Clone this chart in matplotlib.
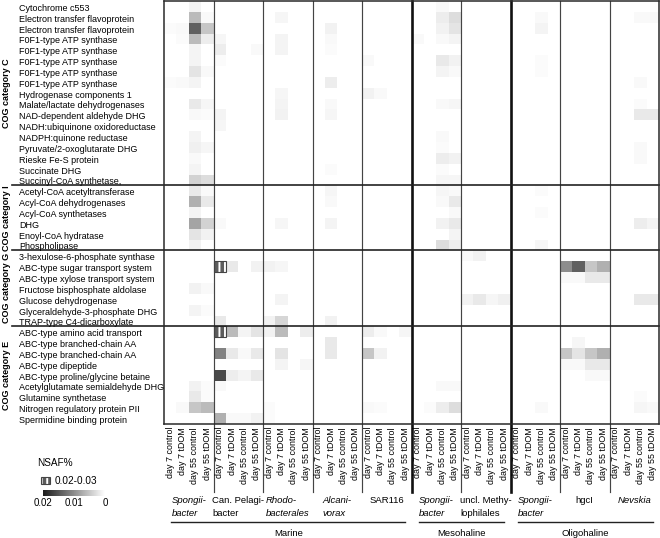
import matplotlib
matplotlib.use("Agg")
import matplotlib.pyplot as plt
import numpy as np
from matplotlib.colors import LinearSegmentedColormap, Normalize
from matplotlib.patches import Rectangle
from matplotlib.lines import Line2D
from matplotlib.cm import ScalarMappable
from matplotlib.transforms import blended_transform_factory as blend

plt.rcParams['font.family'] = ['Liberation Sans', 'DejaVu Sans']
plt.rcParams['hatch.linewidth'] = 1.4

# ---------------- data ----------------
taxa = ["Spongii-\nbacter", "Can. Pelagi-\nbacter", "Rhodo-\nbacterales", "Alcani-\nvorax", "SAR116",
        "Spongii-\nbacter", "uncl. Methy-\nlophilales", "Spongii-\nbacter", "hgcI", "Nevskia"]
taxa_italic = [True, False, True, True, False, True, False, True, False, True]
regions = ["Marine", "Mesohaline", "Oligohaline"]
region_sizes = [5, 2, 3]
treatments = ["day 7 control", "day 7 tDOM", "day 55 control", "day 55 tDOM"]
cog_names = ["COG category C", "COG category I", "COG category G", "COG category E"]

proteins_C = ["Cytochrome c553", "Electron transfer flavoprotein", "Electron transfer flavoprotein",
              "F0F1-type ATP synthase", "F0F1-type ATP synthase", "F0F1-type ATP synthase",
              "F0F1-type ATP synthase", "F0F1-type ATP synthase", "Hydrogenase components 1",
              "Malate/lactate dehydrogenases", "NAD-dependent aldehyde DHG",
              "NADH:ubiquinone oxidoreductase", "NADPH:quinone reductase",
              "Pyruvate/2-oxoglutarate DHG", "Rieske Fe-S protein", "Succinate DHG",
              "Succinyl-CoA synthetase,"]
proteins_I = ["Acetyl-CoA acetyltransferase", "Acyl-CoA dehydrogenases", "Acyl-CoA synthetases",
              "DHG", "Enoyl-CoA hydratase", "Phospholipase"]
proteins_G = ["3-hexulose-6-phosphate synthase", "ABC-type sugar transport system",
              "ABC-type xylose transport system", "Fructose bisphosphate aldolase",
              "Glucose dehydrogenase", "Glyceraldehyde-3-phosphate DHG", "TRAP-type C4-dicarboxylate"]
proteins_E = ["ABC-type amino acid transport", "ABC-type branched-chain AA", "ABC-type branched-chain AA",
              "ABC-type dipeptide", "ABC-type proline/glycine betaine",
              "Acetylglutamate semialdehyde DHG", "Glutamine synthetase",
              "Nitrogen regulatory protein PII", "Spermidine binding protein"]

# NSAF% values, 40 columns = 10 taxa x 4 treatments
nsaf_C = [
 [0,0,.001,0,       0,0,0,0,         0,0,0,0,       0,0,0,0,       0,0,0,0,        0,0,.0006,0,       0,0,0,0,  0,0,0,0,       0,0,0,0, 0,0,0,0],
 [0,0,.006,.0006,   0,0,0,0,         0,.0008,0,0,   0,0,0,0,       0,0,0,0,        0,0,.0016,.003,    0,0,0,0,  0,0,.0006,0,   0,0,0,0, 0,0,.0006,.0006],
 [.0004,.0006,.014,.005, 0,0,0,0,    0,0,0,0,       0,.0012,0,0,   0,0,0,0,        0,0,.0012,.0024,   0,0,0,0,  0,0,.001,0,    0,0,0,0, 0,0,0,0],
 [0,.0004,.006,.0016, .0008,0,0,0,   0,.001,0,0,    0,.0006,0,0,   0,0,0,0,        .0006,0,.0006,.001, 0,0,0,0, 0,0,0,0,       0,0,0,0, 0,0,0,0],
 [0,0,.001,0,       .0016,0,0,.0006, 0,.001,0,0,    0,.0004,0,0,   0,0,0,0,        0,0,0,0,           0,0,0,0,  0,0,0,0,       0,0,0,0, 0,0,0,0],
 [0,0,.001,0,       .0004,0,0,0,     0,0,0,0,       0,0,0,0,       .0006,0,0,0,    0,0,.002,.0012,    0,0,0,0,  0,0,.0004,0,   0,0,0,0, 0,0,0,0],
 [0,0,.0024,.0006,  0,0,0,0,         0,0,0,0,       0,0,0,0,       0,0,0,0,        0,0,.001,.0006,    0,0,0,0,  0,0,.0004,0,   0,0,0,0, 0,0,0,0],
 [.0004,.0006,.001,0, 0,0,0,0,       0,0,0,0,       0,.0016,0,0,   0,0,0,0,        0,0,0,0,           0,0,0,0,  0,0,0,0,       0,0,0,0, 0,0,.0006,0],
 [0,0,0,0,          0,0,0,0,         0,.0008,0,0,   0,0,0,0,       .0012,.0006,0,0, 0,0,0,0,          0,0,0,0,  0,0,0,0,       0,0,0,0, 0,0,0,0],
 [0,0,.002,.0008,   0,0,0,0,         0,.001,0,0,    0,.0006,0,0,   0,0,0,0,        0,0,.0006,.0008,   0,0,0,0,  0,0,0,0,       0,0,0,0, 0,0,.0004,0],
 [0,0,.0006,.0004,  .001,0,0,0,      0,.0012,0,0,   0,.0008,0,0,   0,0,0,0,        0,0,0,0,           0,0,0,0,  0,0,0,0,       0,0,0,0, 0,0,.002,.002],
 [0,0,0,0,          .0008,0,0,0,     0,0,0,0,       0,0,0,0,       0,0,0,0,        0,0,0,0,           0,0,0,0,  0,0,0,0,       0,0,0,0, 0,0,0,0],
 [0,0,.001,0,       0,0,0,0,         0,0,0,0,       0,0,0,0,       0,0,0,0,        0,0,.0006,0,       0,0,0,0,  0,0,0,0,       0,0,0,0, 0,0,0,0],
 [0,0,.0014,.0008,  0,0,0,0,         0,0,0,0,       0,0,0,0,       0,0,0,0,        0,0,.0004,0,       0,0,0,0,  0,0,0,0,       0,0,0,0, 0,0,.0006,0],
 [0,0,.0006,0,      0,0,0,0,         0,0,0,0,       0,0,0,0,       0,0,0,0,        0,0,.0016,.0012,   0,0,0,0,  0,0,0,0,       0,0,0,0, 0,0,.0006,0],
 [0,0,.001,0,       0,0,0,0,         0,0,0,0,       0,.0004,0,0,   0,0,0,0,        0,0,.0004,0,       0,0,0,0,  0,0,0,0,       0,0,0,0, 0,0,0,0],
 [0,0,.004,.003,    0,0,0,0,         0,0,0,0,       0,0,0,0,       0,0,0,0,        0,0,.0008,.0008,   0,0,0,0,  0,0,0,0,       0,0,0,0, 0,0,0,0],
]
nsaf_I = [
 [0,0,.002,.0006,   0,0,0,0,         0,0,0,0,       0,.0008,0,0,   0,0,0,0,        0,0,.0008,.0006,   0,0,0,0,  0,0,.0004,0,   0,0,0,0, 0,0,0,0],
 [0,0,.007,.002,    0,0,0,0,         0,0,0,0,       0,.0006,0,0,   0,0,0,0,        0,0,.0006,.002,    0,0,0,0,  0,0,0,0,       0,0,0,0, 0,0,0,0],
 [0,0,.001,0,       0,0,0,0,         0,0,0,0,       0,0,0,0,       0,0,0,0,        0,0,0,.0006,       0,0,0,0,  0,0,.0004,0,   0,0,0,0, 0,0,0,0],
 [0,0,.008,.004,    .0006,0,0,0,     0,.0008,0,0,   0,.001,0,0,    0,0,0,0,        0,0,.0012,.002,    0,0,0,0,  0,0,0,0,       0,0,0,0, 0,0,.0016,.001],
 [0,0,.0024,.0012,  0,0,0,0,         0,0,0,0,       0,0,0,0,       0,0,0,0,        0,0,0,.001,        0,0,0,0,  0,0,0,0,       0,0,0,0, 0,0,0,0],
 [0,0,.0012,0,      0,0,0,0,         0,0,0,0,       0,0,0,0,       0,0,0,0,        0,0,.003,.0016,    0,0,0,0,  0,0,.0008,0,   0,0,0,0, 0,0,0,0],
]
nsaf_G = [
 [0,0,0,0,          0,0,0,0,         0,0,0,0,       0,0,0,0,       0,0,0,0,        0,0,0,0,  .0006,.0012,0,0,         0,0,0,0, 0,0,0,0,                0,0,0,0],
 [0,0,0,0,          .025,.002,0,.0012, .0012,.0008,0,0, 0,0,0,0,   0,0,0,0,        0,0,0,0,  0,0,0,0,                 0,0,0,0, .01,.014,.005,.007,     0,0,0,0],
 [0,0,0,0,          0,0,0,0,         0,0,0,0,       0,0,0,0,       0,0,0,0,        0,0,0,0,  0,0,0,0,                 0,0,0,0, .0006,.0006,.002,.002,  0,0,0,0],
 [0,0,.0012,.0006,  0,0,0,0,         0,0,0,0,       0,0,0,0,       0,0,0,0,        0,0,0,0,  0,0,0,0,                 0,0,0,0, 0,0,0,0,                0,0,0,0],
 [0,0,0,0,          0,0,0,0,         0,.001,0,0,    0,0,0,0,       0,0,0,0,        0,0,0,0,  .0012,.002,.0008,.0014,  0,0,0,0, 0,0,0,0,                0,0,.002,.002],
 [0,0,.001,.0004,   0,0,0,0,         0,0,0,0,       0,0,0,0,       0,0,0,0,        0,0,0,0,  0,0,0,0,                 0,0,0,0, 0,0,0,0,                0,0,0,0],
 [0,0,0,0,          .002,0,0,0,      .0012,.0036,0,0, 0,.0012,0,0, 0,0,0,0,        0,0,0,0,  0,0,0,0,                 0,0,0,0, 0,0,0,0,                0,0,0,0],
]
nsaf_E = [
 [0,0,0,0,          .025,.006,.001,.0024, .0012,.006,0,.0016, 0,0,0,0, .0016,.0006,0,.0008, 0,0,0,0,        0,0,0,0, 0,0,0,0,   0,0,0,0,               0,0,0,0],
 [0,0,0,0,          0,0,0,0,         0,0,0,0,       0,.002,0,0,    0,0,0,0,        0,0,0,0,                0,0,0,0, 0,0,0,0,   0,.0008,0,0,           0,0,0,0],
 [0,0,0,0,          .011,.002,.0006,.002, 0,.0024,0,0, 0,.002,0,0, .005,.0012,0,0, 0,0,0,0,                0,0,0,0, 0,0,0,0,   .005,.0024,.005,.007,  0,0,0,0],
 [0,0,0,0,          0,0,0,0,         0,.001,0,.0008, 0,0,0,0,      0,0,0,0,        0,0,0,0,                0,0,0,0, 0,0,0,0,   .0006,.0006,.002,.002, 0,0,0,0],
 [0,0,0,0,          .016,.0016,.001,.002, 0,0,0,0,  0,0,0,0,       0,0,0,0,        0,0,0,0,                0,0,0,0, 0,0,0,0,   0,0,.0006,.0006,       0,0,0,0],
 [0,0,.0012,.0004,  .0006,0,0,0,     0,0,0,0,       0,0,0,0,       0,0,0,0,        0,0,.0006,.0006,        0,0,0,0, 0,0,0,0,   0,0,0,0,               0,0,0,0],
 [0,0,.002,.0004,   0,0,0,0,         0,0,0,0,       0,0,0,0,       0,0,0,0,        0,0,0,0,                0,0,0,0, 0,0,0,0,   0,0,0,0,               0,0,.0004,0],
 [0,.0006,.005,.006, 0,0,0,0,        .0004,0,0,0,   0,0,0,0,       .0006,.0004,0,0, 0,.0004,.0016,.003,    0,0,0,0, 0,0,.0006,0, 0,0,0,0,             0,0,.0008,.0006],
 [0,0,0,0,          .007,.0006,.0006,.0012, .0004,0,0,0, 0,0,0,0,  0,0,0,0,        0,0,0,0,                0,0,0,0, 0,0,0,0,   0,0,0,0,               0,0,0,0],
]
vmax = 0.02
over_label = "0.02-0.03"

# ---------------- figure ----------------
W, H = 660, 538
fig = plt.figure(figsize=(W / 100, H / 100), dpi=100)
px = lambda x: x / W
py = lambda y: 1 - y / H

ax_l, ax_r, ax_t, ax_b = 164, 659, 1, 424
ax = fig.add_axes([px(ax_l), py(ax_b), px(ax_r - ax_l), (ax_b - ax_t) / H])

blocks = [nsaf_C, nsaf_I, nsaf_G, nsaf_E]
names = [proteins_C, proteins_I, proteins_G, proteins_E]
M = np.array(sum(blocks, []), dtype=float)
labels = sum(names, [])
nrow, ncol = M.shape

cmap = LinearSegmentedColormap.from_list("nsaf", ["#ffffff", "#1c1c1c"])
cmap.set_bad("white")
norm = Normalize(0, vmax)
heat = np.ma.masked_where(M > vmax, M)
ax.pcolormesh(np.arange(ncol + 1), np.arange(nrow + 1), heat, cmap=cmap, norm=norm)

# cells above the colour range: hatched
rr, cc = np.nonzero(M > vmax)
ax.bar(cc + 0.5, np.ones(len(rr)), bottom=rr, width=1, color="#5c5c5c",
       hatch="|||", edgecolor="white", linewidth=0)
ax.bar(cc + 0.5, np.ones(len(rr)), bottom=rr, width=1, fill=False,
       edgecolor="#444444", linewidth=0.8)

ax.set_xlim(0, ncol)
ax.set_ylim(nrow, 0)
ax.set_xticks([])
ax.set_yticks([])
for s in ax.spines.values():
    s.set_linewidth(1.1)
    s.set_color("#2a2a2a")

ntreat = len(treatments)
ext = -(492 - ax_b) / (ax_b - ax_t)
cum_regions = np.cumsum(region_sizes)
for g in range(1, len(taxa)):
    xg = g * ntreat
    thick = g in cum_regions
    ax.axvline(xg, ymin=ext, ymax=1, clip_on=False,
               color="#111111" if thick else "#444444", lw=1.9 if thick else 0.85)

# category separators
cum_rows = np.cumsum([len(b) for b in blocks])
left_ext = (12 - ax_l) / (ax_r - ax_l)
for y in cum_rows[:-1]:
    ax.axhline(y, xmin=left_ext, xmax=1, clip_on=False, color="#222222", lw=1.2)

fs = 6.5
tr_lab = blend(fig.transFigure, ax.transData)
for i, lab in enumerate(labels):
    ax.text(px(19), i + 0.68, lab, transform=tr_lab, ha="left", va="center", fontsize=fs)

starts = np.concatenate([[0], cum_rows[:-1]])
for name, s, e in zip(cog_names, starts, cum_rows):
    ax.text(px(7), (s + e) / 2, name, transform=tr_lab, rotation=90, ha="center",
            va="center", fontsize=6.5, fontweight="bold")

# column labels
tr_col = blend(ax.transData, fig.transFigure)
for g in range(len(taxa)):
    for t, tname in enumerate(treatments):
        ax.text(g * ntreat + t + 0.5, py(427), tname, transform=tr_col, rotation=90,
                ha="center", va="top", fontsize=6.4)
    ax.text(g * ntreat + ntreat / 2, py(496), taxa[g], transform=tr_col, ha="center",
            va="top", multialignment="left", fontsize=6.8, linespacing=1.55,
            style="italic" if taxa_italic[g] else "normal")

# region lines and labels
r0 = 0
for reg, n in zip(regions, region_sizes):
    x0, x1 = r0 * ntreat + 0.6, (r0 + n) * ntreat - 0.5
    ax.add_line(Line2D([x0, x1], [py(522), py(522)], transform=tr_col, color="#222222",
                       lw=1.0, clip_on=False))
    ax.text((x0 + x1) / 2, py(533.5), reg, transform=tr_col, ha="center", va="center",
            fontsize=6.8)
    r0 += n

# legend
fig.text(px(37), py(463), "NSAF%", ha="left", va="center", fontsize=7.2)
fig.add_artist(Rectangle((px(41), py(484)), px(9), 7 / H, transform=fig.transFigure,
                         facecolor="#5c5c5c", hatch="|||", edgecolor="white", linewidth=0))
fig.add_artist(Rectangle((px(41), py(484)), px(9), 7 / H, transform=fig.transFigure,
                         fill=False, edgecolor="#444444", linewidth=0.8))
fig.text(px(55), py(481), over_label, ha="left", va="center", fontsize=7.2)
cax = fig.add_axes([px(43), py(496), px(62), 6 / H])
sm = ScalarMappable(norm=norm, cmap=cmap)
cb = fig.colorbar(sm, cax=cax, orientation="horizontal")
cax.set_xlim(vmax, 0)
cb.set_ticks([0.02, 0.01, 0])
cb.set_ticklabels(["0.02", "0.01", "0"])
cb.outline.set_visible(False)
cax.tick_params(length=0, pad=1.5, labelsize=7.0)

fig.savefig("out.png", dpi=100)
